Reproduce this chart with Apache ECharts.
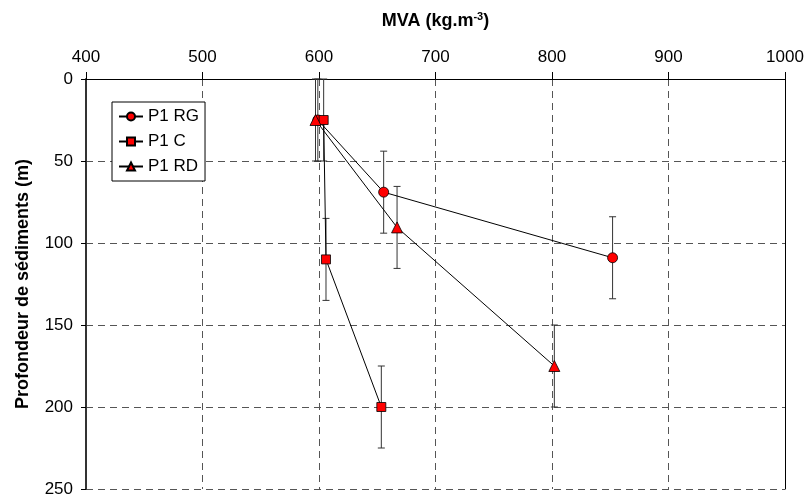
<!DOCTYPE html>
<html>
<head>
<meta charset="utf-8">
<script src="https://cdn.jsdelivr.net/npm/echarts@6/dist/echarts.min.js"></script>
<style>html,body{margin:0;padding:0;background:#fff}#c{width:810px;height:499px}</style>
</head>
<body>
<div id="c"></div>
<script>
// ---- data ----
const seriesNames = ['P1 RG', 'P1 C', 'P1 RD'];
const seriesSymbols = ['circle', 'rect', 'triangle'];
const rgMVA = [599, 655.5, 852];
const rgDepth = [25, 69, 109];
const rgErr = [25, 25, 25];
const cMVA = [604, 606, 653.5];
const cDepth = [25, 110, 200];
const cErr = [25, 25, 25];
const rdMVA = [597, 667, 802];
const rdDepth = [25, 90.5, 175];
const rdErr = [25, 25, 25];
const xMin = 400, xMax = 1000, xStep = 100;
const yMin = 0, yMax = 250, yStep = 50;

const allMVA = [rgMVA, cMVA, rdMVA];
const allDepth = [rgDepth, cDepth, rdDepth];
const allErr = [rgErr, cErr, rdErr];

const FONT = "'Liberation Sans', Arial, sans-serif";

const chart = echarts.init(document.getElementById('c'));

const errData = [];
allMVA.forEach((xs, s) => xs.forEach((x, i) => {
  errData.push([x, allDepth[s][i] - allErr[s][i], allDepth[s][i] + allErr[s][i]]);
}));

const lineSeries = seriesNames.map((name, s) => ({
  name: name,
  type: 'line',
  data: allMVA[s].map((x, i) => [x, allDepth[s][i]]),
  symbol: seriesSymbols[s],
  symbolSize: s === 2 ? 11 : (s === 1 ? 9 : 10),
  showAllSymbol: true,
  lineStyle: { color: '#000', width: 1 },
  itemStyle: { color: '#ff0000', borderColor: '#000', borderWidth: 0.8 },
  z: 5,
  animation: false
}));

chart.setOption({
  animation: false,
  grid: { left: 86, right: 25, top: 79, bottom: 10 },
  legend: {
    orient: 'vertical',
    left: 112, top: 102,
    data: seriesNames,
    backgroundColor: '#fff',
    borderColor: '#000', borderWidth: 1,
    padding: [6, 6, 6, 6],
    itemWidth: 24, itemHeight: 10, itemGap: 8,
    textStyle: { fontFamily: FONT, fontSize: 17, color: '#000' }
  },
  xAxis: {
    type: 'value', position: 'top',
    min: xMin, max: xMax, interval: xStep,
    name: '{a|MVA (kg.m}{s|-3}{a|)}',
    nameLocation: 'middle', nameGap: 48,
    nameTextStyle: {
      rich: {
        a: { fontFamily: FONT, fontSize: 18, fontWeight: 'bold', color: '#000', lineHeight: 20 },
        s: { fontFamily: FONT, fontSize: 11, fontWeight: 'bold', color: '#000', verticalAlign: 'top', lineHeight: 20 }
      }
    },
    axisLine: { show: true, lineStyle: { color: '#000', width: 1 } },
    axisTick: { show: true, inside: false, length: 7, lineStyle: { color: '#000' } },
    axisLabel: { fontFamily: FONT, fontSize: 17, color: '#000', margin: 13, formatter: v => String(v) },
    splitLine: { show: true, lineStyle: { color: '#555', type: [7, 5], width: 1 } }
  },
  yAxis: [{
    type: 'value', inverse: true,
    min: yMin, max: yMax, interval: yStep,
    name: 'Profondeur de sédiments (m)',
    nameLocation: 'middle', nameGap: 54, nameRotate: 90,
    nameTextStyle: { fontFamily: FONT, fontSize: 18, fontWeight: 'bold', color: '#000' },
    axisLine: { show: true, lineStyle: { color: '#333', width: 2 } },
    axisTick: { show: true, length: 5, lineStyle: { color: '#000' } },
    axisLabel: { fontFamily: FONT, fontSize: 17, color: '#000', margin: 13, formatter: v => String(v) },
    splitLine: { show: true, lineStyle: { color: '#555', type: [7, 5], width: 1 } }
  }, {
    type: 'value', inverse: true, position: 'right',
    min: yMin, max: yMax, interval: yStep,
    axisLine: { show: true, lineStyle: { color: '#000', width: 1 } },
    axisTick: { show: false }, axisLabel: { show: false }, splitLine: { show: false }
  }],
  series: [{
    type: 'custom',
    name: 'err',
    data: errData,
    encode: { x: 0, y: [1, 2] },
    z: 3,
    renderItem: function (params, api) {
      const x = api.value(0), lo = api.value(1), hi = api.value(2);
      const p1 = api.coord([x, lo]);
      const p2 = api.coord([x, hi]);
      const w = 3.5;
      const st = { stroke: '#333', lineWidth: 1 };
      return {
        type: 'group',
        children: [
          { type: 'line', shape: { x1: p1[0], y1: p1[1], x2: p2[0], y2: p2[1] }, style: st },
          { type: 'line', shape: { x1: p1[0] - w, y1: p1[1], x2: p1[0] + w, y2: p1[1] }, style: st },
          { type: 'line', shape: { x1: p2[0] - w, y1: p2[1], x2: p2[0] + w, y2: p2[1] }, style: st }
        ]
      };
    }
  }].concat(lineSeries)
});
</script>
</body>
</html>
